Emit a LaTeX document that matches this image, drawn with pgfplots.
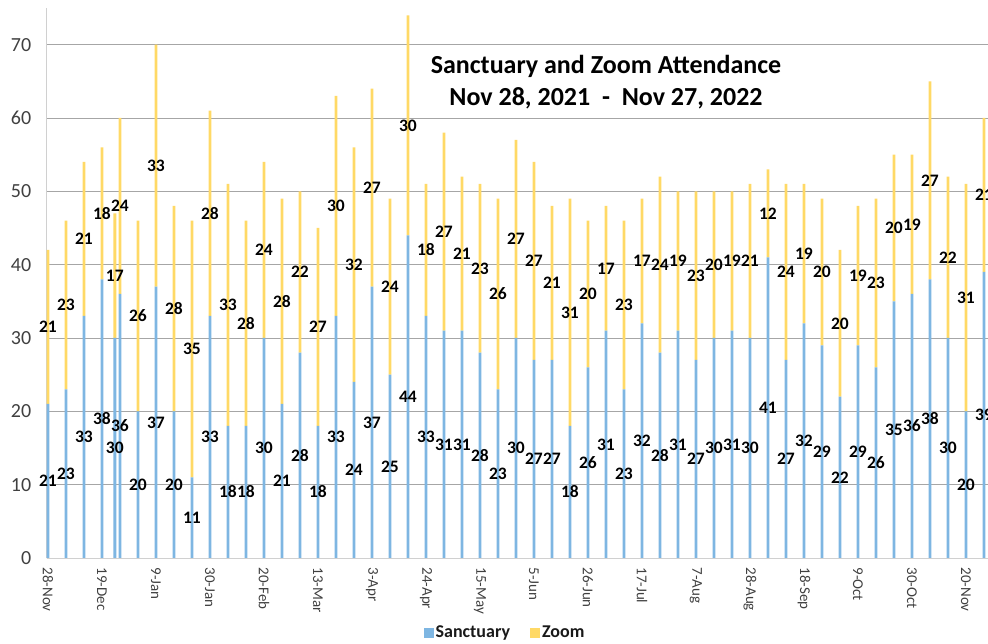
\documentclass[border=0pt]{standalone}
\usepackage{pgfplots}
\pgfplotsset{compat=1.18}
\usepackage{pgfplotstable}
\usepackage{fontspec}
\setmainfont{Carlito}
\definecolor{sanct}{HTML}{7EB6E2}
\definecolor{zoomc}{HTML}{FFD966}
\definecolor{gridc}{HTML}{A6A6A6}
\definecolor{axisc}{HTML}{D0D0D0}
\definecolor{tickc}{HTML}{404040}

% x = days since 28 Nov 2021
\pgfplotstableread{
x s z
0 21 21
7 23 23
14 33 21
21 38 18
26 30 17
28 36 24
35 20 26
42 37 33
49 20 28
56 11 35
63 33 28
70 18 33
77 18 28
84 30 24
91 21 28
98 28 22
105 18 27
112 33 30
119 24 32
126 37 27
133 25 24
140 44 30
147 33 18
154 31 27
161 31 21
168 28 23
175 23 26
182 30 27
189 27 27
196 27 21
203 18 31
210 26 20
217 31 17
224 23 23
231 32 17
238 28 24
245 31 19
252 27 23
259 30 20
266 31 19
273 30 21
280 41 12
287 27 24
294 32 19
301 29 20
308 22 20
315 29 19
322 26 23
329 35 20
336 36 19
343 38 27
350 30 22
357 20 31
364 39 21
}\data

\begin{document}
\begin{tikzpicture}
\pgfplotsset{
  common/.style={
    scale only axis, width=941.1pt, height=550pt,
    at={(46.7pt,86pt)}, anchor=south west,
    xmin=-0.5, xmax=365.5, ymin=0, ymax=75,
  },
  lab/.style={only marks, mark=*, mark size=0pt, mark options={draw=none,fill=none},
    nodes near coords, point meta=explicit symbolic,
    nodes near coords style={anchor=center, inner sep=0pt, text=black,
      font=\bfseries\fontsize{17.5}{17.5}\selectfont}},
}
\begin{axis}[common,
  ybar stacked, bar width=1.1,
  axis x line*=bottom, axis y line*=left,
  axis line style={axisc, line width=0.8pt, -},
  major tick length=0pt,
  ytick={0,10,...,70},
  ymajorgrids, grid style={gridc, line width=0.8pt},
  yticklabel style={text=tickc, font=\fontsize{20}{20}\selectfont},
  yticklabel shift=12pt,
  /pgf/number format/assume math mode=true,
  xtick={0,21,...,357},
  xticklabels={28-Nov,19-Dec,9-Jan,30-Jan,20-Feb,13-Mar,3-Apr,24-Apr,15-May,5-Jun,26-Jun,17-Jul,7-Aug,28-Aug,18-Sep,9-Oct,30-Oct,20-Nov},
  xticklabel style={rotate=-90, anchor=west, text=tickc, font=\fontsize{15}{15}\selectfont},
  xticklabel shift=6pt,
  legend style={at={(axis description cs:0.487,-0.136)}, anchor=center, draw=none, fill=none,
    legend columns=2, font=\bfseries\fontsize{18}{18}\selectfont, text=black!90,
    /tikz/every even column/.append style={column sep=18pt}},
  legend image code/.code={\fill[#1] (0pt,-5pt) rectangle (10pt,5pt);},
]
\addplot[fill=sanct, draw=none] table[x=x, y=s] {\data};
\addlegendentry{Sanctuary}
\addplot[fill=zoomc, draw=none] table[x=x, y=z] {\data};
\addlegendentry{Zoom}
\end{axis}
\begin{axis}[common, hide axis, clip=false]
\addplot[lab] table[x=x, y expr=\thisrow{s}/2, meta=s] {\data};
\addplot[lab] table[x=x, y expr=\thisrow{s}+\thisrow{z}/2, meta=z] {\data};
\end{axis}
\node[align=center, font=\bfseries\fontsize{26}{32}\selectfont, text=black] at (606pt,562pt)
  {Sanctuary and Zoom Attendance\\Nov 28, 2021\ \ -\ \ Nov 27, 2022};
\pgfresetboundingbox
\useasboundingbox (0pt,0pt) rectangle (988pt,644pt);
\end{tikzpicture}
\end{document}
